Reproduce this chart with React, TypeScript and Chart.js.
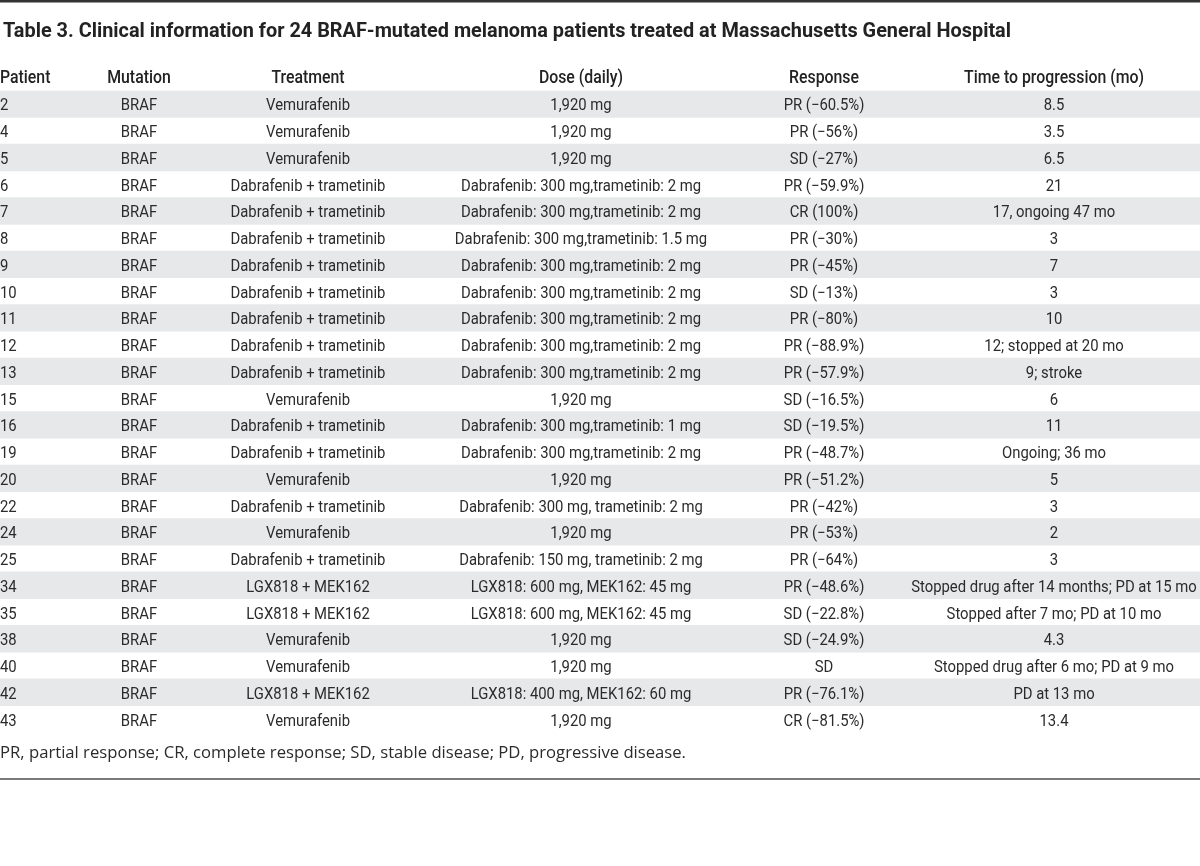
import React, { useEffect, useRef } from "react";
import { Chart, registerables } from "chart.js";

Chart.register(...registerables);

// ---------- data ----------
const title =
  "Table 3. Clinical information for 24 BRAF-mutated melanoma patients treated at Massachusetts General Hospital";
const headers = ["Patient", "Mutation", "Treatment", "Dose (daily)", "Response", "Time to progression (mo)"];
const footnote =
  "PR, partial response; CR, complete response; SD, stable disease; PD, progressive disease.";

const patients = ["2", "4", "5", "6", "7", "8", "9", "10", "11", "12", "13", "15", "16", "19", "20", "22", "24", "25", "34", "35", "38", "40", "42", "43"];
const mutations = ["BRAF", "BRAF", "BRAF", "BRAF", "BRAF", "BRAF", "BRAF", "BRAF", "BRAF", "BRAF", "BRAF", "BRAF", "BRAF", "BRAF", "BRAF", "BRAF", "BRAF", "BRAF", "BRAF", "BRAF", "BRAF", "BRAF", "BRAF", "BRAF"];
const treatments = [
  "Vemurafenib", "Vemurafenib", "Vemurafenib",
  "Dabrafenib + trametinib", "Dabrafenib + trametinib", "Dabrafenib + trametinib", "Dabrafenib + trametinib",
  "Dabrafenib + trametinib", "Dabrafenib + trametinib", "Dabrafenib + trametinib", "Dabrafenib + trametinib",
  "Vemurafenib", "Dabrafenib + trametinib", "Dabrafenib + trametinib", "Vemurafenib",
  "Dabrafenib + trametinib", "Vemurafenib", "Dabrafenib + trametinib",
  "LGX818 + MEK162", "LGX818 + MEK162", "Vemurafenib", "Vemurafenib", "LGX818 + MEK162", "Vemurafenib",
];
const doses = [
  "1,920 mg", "1,920 mg", "1,920 mg",
  "Dabrafenib: 300 mg,trametinib: 2 mg", "Dabrafenib: 300 mg,trametinib: 2 mg",
  "Dabrafenib: 300 mg,trametinib: 1.5 mg", "Dabrafenib: 300 mg,trametinib: 2 mg",
  "Dabrafenib: 300 mg,trametinib: 2 mg", "Dabrafenib: 300 mg,trametinib: 2 mg",
  "Dabrafenib: 300 mg,trametinib: 2 mg", "Dabrafenib: 300 mg,trametinib: 2 mg",
  "1,920 mg", "Dabrafenib: 300 mg,trametinib: 1 mg", "Dabrafenib: 300 mg,trametinib: 2 mg",
  "1,920 mg", "Dabrafenib: 300 mg, trametinib: 2 mg", "1,920 mg", "Dabrafenib: 150 mg, trametinib: 2 mg",
  "LGX818: 600 mg, MEK162: 45 mg", "LGX818: 600 mg, MEK162: 45 mg", "1,920 mg", "1,920 mg",
  "LGX818: 400 mg, MEK162: 60 mg", "1,920 mg",
];
const responses = [
  "PR (−60.5%)", "PR (−56%)", "SD (−27%)", "PR (−59.9%)", "CR (100%)", "PR (−30%)", "PR (−45%)", "SD (−13%)",
  "PR (−80%)", "PR (−88.9%)", "PR (−57.9%)", "SD (−16.5%)", "SD (−19.5%)", "PR (−48.7%)", "PR (−51.2%)",
  "PR (−42%)", "PR (−53%)", "PR (−64%)", "PR (−48.6%)", "SD (−22.8%)", "SD (−24.9%)", "SD", "PR (−76.1%)", "CR (−81.5%)",
];
const progression = [
  "8.5", "3.5", "6.5", "21", "17, ongoing 47 mo", "3", "7", "3", "10", "12; stopped at 20 mo", "9; stroke", "6", "11",
  "Ongoing; 36 mo", "5", "3", "2", "3", "Stopped drug after 14 months; PD at 15 mo", "Stopped after 7 mo; PD at 10 mo",
  "4.3", "Stopped drug after 6 mo; PD at 9 mo", "PD at 13 mo", "13.4",
];

// ---------- layout / style ----------
const W = 1200;
const H = 866;
const columnAnchors = [0, 139, 308, 581, 824, 1054];
const columnAlign: CanvasTextAlign[] = ["left", "center", "center", "center", "center", "center"];
const stripeColor = "#e7e8e9";
const textColor = "#2b2b2b";
const dataFont = "400 16px Roboto";
const headerFont = "500 18px Roboto";
const titleFont = "700 20px Roboto";
const footFont = "400 16px 'Open Sans'";

function drawText(
  ctx: CanvasRenderingContext2D,
  text: string,
  x: number,
  y: number,
  align: CanvasTextAlign,
  font: string,
  sx: number,
  color: string
) {
  ctx.save();
  ctx.font = font;
  ctx.fillStyle = color;
  ctx.textAlign = align;
  ctx.textBaseline = "alphabetic";
  ctx.translate(x, y);
  ctx.scale(sx, 1);
  ctx.fillText(text, 0, 0);
  ctx.restore();
}

function fitScale(ctx: CanvasRenderingContext2D, font: string, sample: string, target: number) {
  ctx.save();
  ctx.font = font;
  const w = ctx.measureText(sample).width;
  ctx.restore();
  return w > 0 ? target / w : 1;
}

const tablePlugin = {
  id: "tableText",
  afterDatasetsDraw(chart: any) {
    const ctx: CanvasRenderingContext2D = chart.ctx;
    const xs = chart.scales.x;
    const ys = chart.scales.y;
    const area = chart.chartArea;

    const sData = fitScale(ctx, dataFont, "Dabrafenib: 300 mg,trametinib: 2 mg", 240);
    const sHead = fitScale(ctx, headerFont, "Time to progression (mo)", 180);
    const sTitle = fitScale(ctx, titleFont, title, 1008);
    const sFoot = fitScale(ctx, footFont, footnote, 686);

    // top rule
    ctx.save();
    ctx.fillStyle = "#333333";
    ctx.fillRect(0, 0, W, 2.5);
    ctx.restore();

    // title
    drawText(ctx, title, xs.getPixelForValue(3), area.top - 54, "left", titleFont, sTitle, "#222222");

    // headers
    headers.forEach((h, c) => {
      drawText(ctx, h, xs.getPixelForValue(columnAnchors[c]), area.top - 7.3, columnAlign[c], headerFont, sHead, "#222222");
    });

    // cells
    const columns = [patients, mutations, treatments, doses, responses, progression];
    patients.forEach((_, r) => {
      const y = ys.getPixelForValue(r) + 6.5;
      columns.forEach((col, c) => {
        drawText(ctx, col[r], xs.getPixelForValue(columnAnchors[c]), y, columnAlign[c], dataFont, sData, textColor);
      });
    });

    // footnote
    drawText(ctx, footnote, xs.getPixelForValue(0), area.bottom + 25.6, "left", footFont, sFoot, "#2b2b2b");

    // bottom rule
    ctx.save();
    ctx.fillStyle = "#7a7a7a";
    ctx.fillRect(0, area.bottom + 45.6, W, 2);
    ctx.restore();
  },
};

export default function App() {
  const ref = useRef<HTMLCanvasElement | null>(null);

  useEffect(() => {
    document.body.style.margin = "0";
    const canvas = ref.current;
    if (!canvas) return;
    const stripes = patients.map((_, i) => (i % 2 === 0 ? [0, W] : null));
    const chart = new Chart(canvas, {
      type: "bar",
      data: {
        labels: patients,
        datasets: [
          {
            data: stripes as any,
            backgroundColor: stripeColor,
            borderWidth: 0,
            barPercentage: 1,
            categoryPercentage: 1,
          },
        ],
      },
      options: {
        indexAxis: "y",
        responsive: false,
        animation: false,
        layout: { padding: { top: 90.6, bottom: H - 732.4, left: 0, right: 0 } },
        scales: {
          x: { type: "linear", min: 0, max: W, display: false },
          y: { type: "category", display: false, offset: true },
        },
        plugins: {
          legend: { display: false },
          tooltip: { enabled: false },
        },
      },
      plugins: [tablePlugin],
    });
    return () => chart.destroy();
  }, []);

  return (
    <div style={{ position: "fixed", left: 0, top: 0, width: W, height: H, background: "#ffffff" }}>
      <canvas ref={ref} width={W} height={H} style={{ width: W, height: H, display: "block" }} />
    </div>
  );
}
